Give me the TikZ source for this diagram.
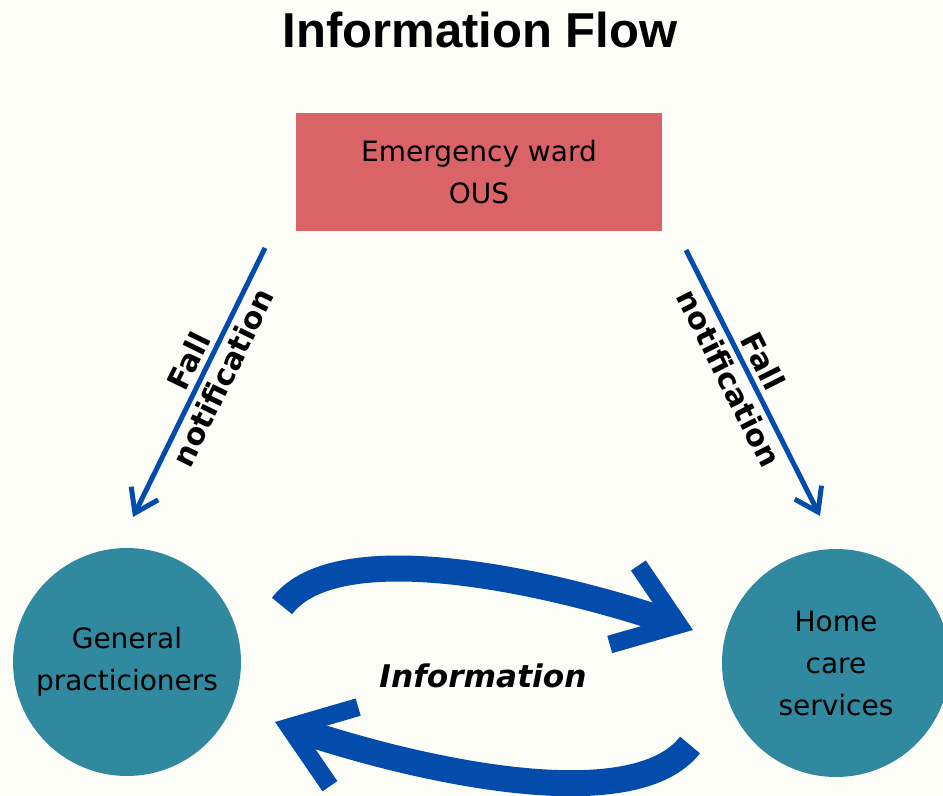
\documentclass[tikz,border=0pt]{standalone}
\usepackage{fontspec}
\setmainfont{DejaVu Sans}
\newfontfamily\headfont{Liberation Sans}
\usepackage{xcolor}
\usetikzlibrary{positioning,arrows.meta,bending,shapes.geometric}
\definecolor{paper}{RGB}{253,253,248}
\definecolor{wardred}{RGB}{218,99,103}
\definecolor{careteal}{RGB}{49,137,160}
\definecolor{flowblue}{RGB}{4,76,172}

\tikzset{
  wardbox/.style={fill=wardred, minimum width=183pt, minimum height=59pt,
    inner sep=0pt, align=center, font=\fontsize{14}{21}\selectfont},
  party/.style={circle, fill=careteal, minimum size=114pt, inner sep=0pt,
    align=center, font=\fontsize{14}{21}\selectfont},
  notearrow/.style={flowblue, line width=2.5pt,
    -{Straight Barb[length=11pt,width=15pt]}},
  infoarrow/.style={flowblue, line width=13pt,
    -{Straight Barb[length=29pt,width=42pt,line width=9pt]}},
  notelabel/.style={sloped, align=center, text=black,
    font=\fontsize{15}{19}\selectfont\bfseries},
}

\begin{document}
\begin{tikzpicture}[x=0.5pt, y=-0.5pt]
  \useasboundingbox (0,0) rectangle (943,796);
  \clip (0,0) rectangle (943,796);
  \fill[paper] (0,0) rectangle (943,796);

  \node[anchor=base, font=\headfont\bfseries\fontsize{24.5}{29}\selectfont]
    (title) at (480,48) {Information Flow};

  % the three parties
  \node[wardbox] (ward) at (479,172) {Emergency ward\\OUS};
  \node[party] (gp) at (127,662) {General\\practicioners};
  \node[party] (home) at (836,663) {Home\\care\\services};

  % fall notifications from the ward
  \coordinate (gptop) at (265,248);
  \coordinate (gptip) at (133,517);
  \coordinate (hometop) at (686,250);
  \coordinate (hometip) at (820,516);
  \draw[notearrow] (gptop) -- node[notelabel, pos=0.45] {Fall\\notification} (gptip);
  \draw[notearrow] (hometop) -- node[notelabel, pos=0.45] {Fall\\notification} (hometip);

  % information going both ways
  \coordinate (gpout) at (282,606);
  \coordinate (homein) at (693,630);
  \coordinate (homeout) at (690,745);
  \coordinate (gpin) at (275,722);
  \draw[infoarrow] (gpout) .. controls (340,530) and (573,586) .. (homein);
  \draw[infoarrow] (homeout) .. controls (630,822) and (397,766) .. (gpin);
  \node[font=\fontsize{15.6}{19}\selectfont\bfseries\itshape] (info) at (483,676) {Information};
\end{tikzpicture}
\end{document}
